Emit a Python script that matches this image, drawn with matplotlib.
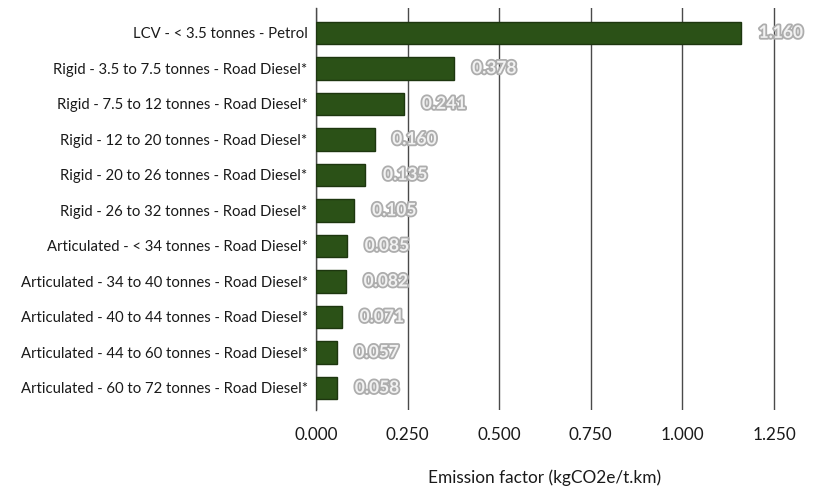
import matplotlib
matplotlib.use("Agg")
import matplotlib.pyplot as plt
import matplotlib.patheffects as pe

categories = [
    "LCV - < 3.5 tonnes - Petrol",
    "Rigid - 3.5 to 7.5 tonnes - Road Diesel*",
    "Rigid - 7.5 to 12 tonnes - Road Diesel*",
    "Rigid - 12 to 20 tonnes - Road Diesel*",
    "Rigid - 20 to 26 tonnes - Road Diesel*",
    "Rigid - 26 to 32 tonnes - Road Diesel*",
    "Articulated - < 34 tonnes - Road Diesel*",
    "Articulated - 34 to 40 tonnes - Road Diesel*",
    "Articulated - 40 to 44 tonnes - Road Diesel*",
    "Articulated - 44 to 60 tonnes - Road Diesel*",
    "Articulated - 60 to 72 tonnes - Road Diesel*",
]
values = [1.160, 0.378, 0.241, 0.160, 0.135, 0.105, 0.085, 0.082, 0.071, 0.057, 0.058]
xticks = [0.0, 0.25, 0.5, 0.75, 1.0, 1.25]
xlabel = "Emission factor (kgCO2e/t.km)"

plt.rcParams["font.family"] = ["Lato", "DejaVu Sans"]

fig = plt.figure(figsize=(8.22, 4.88), dpi=100)
left, right_val = 0.3844, 1.27
width = (right_val / 1.25) * (0.9416 - 0.3844)
ax = fig.add_axes([left, 0.1598, width, 0.9836 - 0.1598])

ypos = list(range(len(categories)))
ax.barh(ypos, values, height=0.63, color="#2b5117", edgecolor="#1d360f",
        linewidth=1.0, zorder=3)

for y, v in zip(ypos, values):
    ax.text(v + 0.048, y, f"{v:.3f}", va="center", ha="left", fontsize=12.5,
            fontweight="bold", color="#f2f2f2", zorder=4, clip_on=False,
            path_effects=[pe.withStroke(linewidth=2.6, foreground="#adadad")])

ax.set_xlim(0, right_val)
ax.set_ylim(len(categories) - 1 + 0.62, -0.7)
ax.set_yticks(ypos)
ax.set_yticklabels(categories, fontsize=10.75, color="#1a1a1a")
ax.set_xticks(xticks)
ax.set_xticklabels([f"{t:.3f}" for t in xticks], fontsize=12.3, color="#1a1a1a")
ax.tick_params(axis="y", length=0, pad=6)
ax.tick_params(axis="x", length=0, pad=12)

ax.grid(axis="x", color="#4a4a4a", linewidth=1.0, zorder=0)
for s in ["top", "right", "bottom"]:
    ax.spines[s].set_visible(False)
ax.spines["left"].set_color("#4a4a4a")
ax.spines["left"].set_linewidth(1.0)

ax.set_xlabel(xlabel, fontsize=12.4, color="#1a1a1a")
ax.xaxis.set_label_coords(0.5 * 1.25 / right_val, -0.147)

fig.savefig("out.png", dpi=100)
